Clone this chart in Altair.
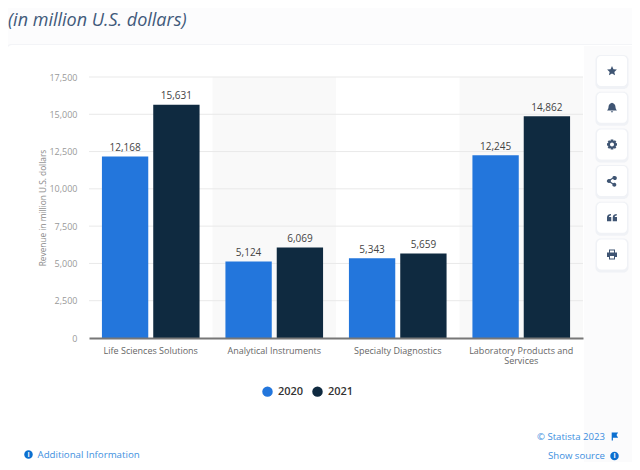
import altair as alt
import pandas as pd

categories = ["Life Sciences Solutions", "Analytical Instruments", "Specialty Diagnostics", "Laboratory Products and Services"]
values_2020 = [12168, 5124, 5343, 12245]
values_2021 = [15631, 6069, 5659, 14862]
years = ["2020", "2021"]
shaded = ["Analytical Instruments", "Laboratory Products and Services"]
y_ticks = [0, 2500, 5000, 7500, 10000, 12500, 15000, 17500]

FONT = "Open Sans"
W, H = 494, 261
OX, OY = 89, 77
def px(v): return v - OX
def py(v): return v - OY

rows = []
for c, a, b in zip(categories, values_2020, values_2021):
    rows.append({"cat": c, "year": "2020", "v": a})
    rows.append({"cat": c, "year": "2021", "v": b})
df = pd.DataFrame(rows)
one = pd.DataFrame({"a": [0]})

def box(x0, x1, y0, y1, color, radius=0, opacity=1):
    return alt.Chart(one).mark_rect(color=color, cornerRadius=radius, opacity=opacity).encode(
        x=alt.value(px(x0)), x2=alt.value(px(x1)), y=alt.value(py(y0)), y2=alt.value(py(y1)))

def txt(s, x, y, size, color, align="left", style="normal", weight="normal"):
    return alt.Chart(pd.DataFrame({"t": [s]})).mark_text(
        font=FONT, fontSize=size, color=color, align=align, baseline="middle",
        fontStyle=style, fontWeight=weight).encode(
        text="t:N", x=alt.value(px(x)), y=alt.value(py(y)))

def icon(path, x, y, size, color):
    return alt.Chart(one).mark_point(shape=path, filled=True, color=color, opacity=1, size=size, strokeWidth=0).encode(
        x=alt.value(px(x)), y=alt.value(py(y)))

layers = []
# card
layers.append(box(6, 637, 44, 471, "#f3f4f7", 5))
layers.append(box(7, 636, 45, 471, "#ffffff", 5))
layers.append(box(584, 636, 46, 471, "#fbfbfc", 0))

x_enc = alt.X("cat:N", sort=categories, scale=alt.Scale(paddingInner=0, paddingOuter=0),
              axis=alt.Axis(title=None, ticks=False, labelAngle=0, labelFont=FONT, labelFontSize=9,
                            labelColor="#666666", labelPadding=8, labelLimit=200, domainColor="#777777",
                            domainWidth=2, grid=False, zindex=1, labelLineHeight=10,
                            labelExpr="datum.label == 'Laboratory Products and Services' ? ['Laboratory Products and', 'Services'] : datum.label"))
y_enc = alt.Y("v:Q", scale=alt.Scale(domain=[0, 17500], nice=False),
              axis=alt.Axis(values=y_ticks, labelExpr="format(datum.value, ',')", title="Revenue in million U.S. dollars", ticks=False,
                            domain=False, grid=False, labelFont=FONT, labelFontSize=9, labelColor="#999999",
                            labelPadding=12, titleFont=FONT, titleFontSize=8.3, titleColor="#888888",
                            titleFontWeight="normal", titlePadding=1, zindex=1))
xo = alt.XOffset("year:N", sort=years, scale=alt.Scale(paddingInner=0.097, paddingOuter=0.252))

# alternating bands
layers.append(alt.Chart(pd.DataFrame({"cat": shaded})).mark_rect(color="#f9f9f9").encode(
    x=x_enc, y=alt.value(0), y2=alt.value(H)))
# grid
layers.append(alt.Chart(pd.DataFrame({"v": y_ticks[1:]})).mark_rule(color="#e9e9e9", strokeWidth=1).encode(
    y=y_enc, x=alt.value(0), x2=alt.value(W)))
# bars
layers.append(alt.Chart(df).mark_bar().encode(
    x=x_enc, xOffset=xo, y=y_enc,
    color=alt.Color("year:N", sort=years, scale=alt.Scale(domain=years, range=["#2376dc", "#0f2a40"]),
                    legend=alt.Legend(title=None, orient="none", direction="horizontal", legendX=173, legendY=309,
                                      symbolType="circle", symbolSize=110, symbolStrokeWidth=0, labelFont=FONT,
                                      labelFontSize=11, labelFontWeight=600, labelColor="#333333",
                                      columnPadding=8, labelOffset=5, padding=0))))
layers.append(alt.Chart(df).mark_text(font=FONT, fontSize=10, color="#444444", dy=-8.5, baseline="middle").encode(
    x=x_enc, xOffset=xo, y=y_enc, text=alt.Text("v:Q", format=",")))

# page title
layers.append(txt("(in million U.S. dollars)", 8, 20.5, 18, "#41597a", style="italic"))

# side buttons
btn_y = [56, 92.7, 129.4, 166, 202.7, 239.4]
STAR = "M0,-1 L0.29,-0.36 L0.98,-0.28 L0.47,0.18 L0.61,0.87 L0,0.52 L-0.61,0.87 L-0.47,0.18 L-0.98,-0.28 L-0.29,-0.36 Z"
BELL = "M0,-1 C0.5,-0.9 0.7,-0.5 0.7,-0.1 C0.7,0.2 0.9,0.4 1,0.55 L-1,0.55 C-0.9,0.4 -0.7,0.2 -0.7,-0.1 C-0.7,-0.5 -0.5,-0.9 0,-1 Z M-0.25,0.7 L0.25,0.7 L0,1 Z"
GEAR = "M-0.25,-1 L0.25,-1 L0.32,-0.7 L0.6,-0.85 L0.87,-0.55 L0.7,-0.3 L1,-0.22 L1,0.22 L0.7,0.3 L0.87,0.55 L0.6,0.85 L0.32,0.7 L0.25,1 L-0.25,1 L-0.32,0.7 L-0.6,0.85 L-0.87,0.55 L-0.7,0.3 L-1,0.22 L-1,-0.22 L-0.7,-0.3 L-0.87,-0.55 L-0.6,-0.85 L-0.32,-0.7 Z M0,-0.4 A0.4,0.4 0 1,0 0,0.4 A0.4,0.4 0 1,0 0,-0.4 Z"
SHARE = "M0.55,-1 A0.4,0.4 0 1,1 0.2,-0.45 L-0.25,-0.15 A0.4,0.4 0 0,1 -0.25,0.15 L0.2,0.45 A0.4,0.4 0 1,1 0.08,0.65 L-0.4,0.33 A0.4,0.4 0 1,1 -0.4,-0.33 L0.08,-0.65 A0.4,0.4 0 0,1 0.55,-1 Z"
QUOTE = "M-1,-0.1 C-1,-0.6 -0.6,-0.75 -0.2,-0.75 L-0.2,-0.45 C-0.45,-0.45 -0.6,-0.35 -0.6,-0.15 L-0.15,-0.15 L-0.15,0.7 L-1,0.7 Z M0.15,-0.1 C0.15,-0.6 0.55,-0.75 0.95,-0.75 L0.95,-0.45 C0.7,-0.45 0.55,-0.35 0.55,-0.15 L1,-0.15 L1,0.7 L0.15,0.7 Z"
PRINT = "M-0.6,-1 L0.6,-1 L0.6,-0.4 L1,-0.4 Q1,-0.4 1,-0.2 L1,0.5 L0.6,0.5 L0.6,1 L-0.6,1 L-0.6,0.5 L-1,0.5 L-1,-0.2 Q-1,-0.4 -1,-0.4 L-0.6,-0.4 Z M-0.4,-0.8 L-0.4,-0.4 L0.4,-0.4 L0.4,-0.8 Z M-0.4,0.3 L-0.4,0.8 L0.4,0.8 L0.4,0.3 Z"
icons = [STAR, BELL, GEAR, SHARE, QUOTE, PRINT]
for b, ic in zip(btn_y, icons):
    layers.append(box(595.5, 628.5, b - 1, b + 33, "#eef0f4", 5, 0.8))
    layers.append(box(597, 627, b, b + 30, "#ffffff", 4))
    layers.append(icon(ic, 612, b + 15, 100, "#3f5573"))

# footer
BLUE = "#3d8fe0"
ICONB = "#0b6fd0"
layers.append(alt.Chart(one).mark_circle(color=ICONB, size=72, opacity=1).encode(x=alt.value(px(28.5)), y=alt.value(py(454.5))))
layers.append(txt("i", 28.5, 454.5, 7, "#ffffff", align="center", weight="bold"))
layers.append(txt("Additional Information", 37.5, 454.5, 9.7, BLUE))
layers.append(txt("© Statista 2023", 605, 436.5, 9.6, BLUE, align="right"))
layers.append(icon("M-0.7,-1 L-0.7,1 L-0.4,1 L-0.4,0.3 L0.9,0.3 L0.5,-0.35 L0.9,-1 Z", 614.5, 436.5, 64, ICONB))
layers.append(txt("Show source", 605, 456, 9.6, BLUE, align="right"))
layers.append(alt.Chart(one).mark_circle(color=ICONB, size=72, opacity=1).encode(x=alt.value(px(614.5)), y=alt.value(py(456))))
layers.append(txt("i", 614.5, 456, 7, "#ffffff", align="center", weight="bold"))

chart = alt.layer(*layers).properties(
    width=W, height=H,
    background="#fcfcfd",
    autosize=alt.AutoSizeParams(type="none"),
    padding={"left": 81, "top": 69, "right": 49, "bottom": 124},
).configure_view(stroke=None)

chart.save("out.html", embed_options={"renderer": "svg", "actions": False})
